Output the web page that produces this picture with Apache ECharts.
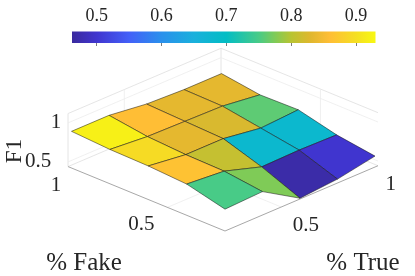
<!DOCTYPE html>
<html><head><meta charset="utf-8">
<style>html,body{margin:0;padding:0;background:#fff}#c{width:415px;height:276px}</style>
<script src="https://cdn.jsdelivr.net/npm/echarts@6/dist/echarts.min.js"></script>
</head><body><div id="c"></div>
<script>
// grid coordinates
const percentTrue = [0.2, 0.4, 0.6, 0.8, 1.0];
const percentFake = [0.2, 0.4, 0.6, 0.8, 1.0];
// F1 heights: one row per % Fake, one column per % True
const f1Fake02 = [0.72, 0.74, 0.45, 0.49, 0.58];
const f1Fake04 = [0.84, 0.80, 0.65, 0.66, 0.65];
const f1Fake06 = [0.87, 0.81, 0.81, 0.74, 0.77];
const f1Fake08 = [0.88, 0.84, 0.83, 0.82, 0.76];
const f1Fake10 = [0.91, 0.91, 0.85, 0.83, 0.83];
// face colour values, one row per % Fake band, one column per % True band
const colorBand0 = [0.75, 0.775, 0.47, 0.50];
const colorBand1 = [0.865, 0.81, 0.68, 0.68];
const colorBand2 = [0.895, 0.835, 0.825, 0.76];
const colorBand3 = [0.92, 0.86, 0.835, 0.835];
const colorTicks = [0.5, 0.6, 0.7, 0.8, 0.9];
const colorRange = [0.462, 0.93];
const stopValues = [0.462,0.5,0.55,0.6,0.65,0.7,0.75,0.775,0.8,0.83,0.86,0.9,0.93];
const stopColors = ['#3a2a9e','#4035cf','#4360f8','#2a90ec','#1ab0dc','#02bdc4','#48cb87','#7fcb57','#b8c432','#e0b72e','#ffbe35','#f5df22','#f8f812'];
const zTickLabels = ['0.5','1'];
const zTicks = [0.5, 1];
const fakeTicks = [0.5, 1];
const trueTicks = [0.5, 1];

const Z0 = 0.44, Z1 = 1.12, ZS = 78;
function proj(tr, fk, z) {
  const t = (tr - 0.2) / 0.8, f = (fk - 0.2) / 0.8;
  return [225 + 150 * t - 153.5 * f, 231 - 64 * t - 63 * f - (z - Z0) * ZS];
}
function colorOf(v) {
  for (let i = 1; i < stopValues.length; i++) {
    if (v <= stopValues[i]) {
      const k = (v - stopValues[i-1]) / (stopValues[i] - stopValues[i-1]);
      return echarts.color.lerp(Math.max(0, k), [stopColors[i-1], stopColors[i]]);
    }
  }
  return stopColors[stopColors.length - 1];
}
const heights = [f1Fake02, f1Fake04, f1Fake06, f1Fake08, f1Fake10];
const colors = [colorBand0, colorBand1, colorBand2, colorBand3];
const cells = [];
for (let f = 3; f >= 0; f--) for (let t = 3; t >= 0; t--) cells.push([t, f, colors[f][t]]);

// lines of the 3D box: [true,fake,z,true,fake,z,kind]
const bT = percentTrue[0], eT = 1.016, bF = percentFake[0], eF = 1.018;
const boxLines = [
  [eT,eF,Z0, bT,eF,Z0, 0],
  [eT,eF,Z0, eT,bF,Z0, 0],
  [eT,eF,Z0, eT,eF,Z1, 0],
  [eT,eF,Z1, bT,eF,Z1, 0],
  [eT,eF,Z1, eT,bF,Z1, 0],
  [bT,eF,Z0, bT,eF,Z1, 0],
  [0.5,bF,Z0, 0.5,eF,Z0, 2],
  [bT,0.5,Z0, eT,0.5,Z0, 2],
  [0.5,eF,Z0, 0.5,eF,Z1, 2],
  [eT,0.5,Z0, eT,0.5,Z1, 2],
  [bT,eF,0.5, eT,eF,0.5, 2],
  [eT,eF,0.5, eT,bF,0.5, 2],
  [bT,eF,1, eT,eF,1, 2],
  [eT,eF,1, eT,bF,1, 2],
  [bT,bF,Z0, eT,bF,Z0, 1],
  [bT,bF,Z0, bT,eF,Z0, 1]
];
// tick labels: [true,fake,z,text,dx,dy]
const labels = [
  [bT,eF,zTicks[0],zTickLabels[0],-30,0],
  [bT,eF,zTicks[1],zTickLabels[1],-12,0],
  [bT,fakeTicks[1],Z0,'1',-15.5,17],
  [bT,fakeTicks[0],Z0,'0.5',-26,17.6],
  [trueTicks[0],bF,Z0,'0.5',24.6,18],
  [trueTicks[1],bF,Z0,'1',15.7,17]
];
const titles = [
  ['F1', 15, 151, Math.PI/2, 23],
  ['% Fake', 84, 263, 0, 25],
  ['% True', 363, 263, 0, 25]
];
const FONT = '"Liberation Serif","Times New Roman",serif';
const INK = '#262626';

const chart = echarts.init(document.getElementById('c'), null, {renderer:'canvas'});
chart.setOption({
  animation:false,
  backgroundColor:'#fff',
  grid:[
    {left:0, top:0, width:415, height:276, show:false},
    {left:72, top:31.5, width:303.5, height:11.5, show:false}
  ],
  xAxis:[
    {gridIndex:0, type:'value', min:0, max:415, show:false},
    {gridIndex:1, type:'value', position:'top', min:colorRange[0], max:colorRange[1], z:6,
     axisLine:{show:false}, splitLine:{show:false},
     axisTick:{show:true, inside:true, length:3, customValues:colorTicks, lineStyle:{color:'#444', width:0.7}},
     axisLabel:{show:true, customValues:colorTicks, margin:6, fontFamily:FONT, fontSize:18, color:INK,
       formatter:v=>v.toFixed(1)}}
  ],
  yAxis:[
    {gridIndex:0, type:'value', min:0, max:276, inverse:true, show:false},
    {gridIndex:1, type:'value', min:0, max:1, show:false}
  ],
  series:[
    {type:'custom', xAxisIndex:1, yAxisIndex:1, data:[[colorRange[0],colorRange[1]]], silent:true, z:1,
     renderItem:(p,api)=>{
       const a=api.coord([api.value(0),1]), b=api.coord([api.value(1),0]);
       const span=colorRange[1]-colorRange[0];
       return {type:'rect', shape:{x:a[0],y:a[1],width:b[0]-a[0],height:b[1]-a[1]},
         style:{fill:new echarts.graphic.LinearGradient(0,0,1,0,
           stopValues.map((v,i)=>({offset:(v-colorRange[0])/span,color:stopColors[i]})))}};
     }},
    {type:'custom', data:boxLines, silent:true, z:2, clip:false,
     renderItem:(p,api)=>{
       const k=api.value(6);
       const a=proj(api.value(0),api.value(1),api.value(2)), b=proj(api.value(3),api.value(4),api.value(5));
       const A=api.coord(a), B=api.coord(b);
       return {type:'line', shape:{x1:A[0],y1:A[1],x2:B[0],y2:B[1]},
         style:{stroke:k==1?'#a8a8a8':k==0?'#dedede':'#ececec', lineWidth:k==1?1:0.8, fill:null}};
     }},
    {type:'custom', data:cells, silent:true, z:3, clip:false,
     renderItem:(p,api)=>{
       const t=api.value(0), f=api.value(1);
       const P=(ti,fi)=>api.coord(proj(percentTrue[ti],percentFake[fi],heights[fi][ti]));
       return {type:'polygon', shape:{points:[P(t,f),P(t+1,f),P(t+1,f+1),P(t,f+1)]},
         style:{fill:colorOf(api.value(2)), stroke:'rgba(20,20,20,0.85)', lineWidth:0.6}};
     }},
    {type:'custom', data:labels, silent:true, z:4, clip:false,
     renderItem:(p,api)=>{
       const q=api.coord(proj(api.value(0),api.value(1),api.value(2)));
       return {type:'text', x:q[0]+api.value(4), y:q[1]+api.value(5),
         style:{text:labels[p.dataIndex][3], fontFamily:FONT, fontSize:21, fill:INK, align:'center', verticalAlign:'middle'}};
     }},
    {type:'custom', data:titles.map(d=>[d[1],d[2]]), silent:true, z:4, clip:false,
     renderItem:(p,api)=>{
       const q=api.coord([api.value(0),api.value(1)]), d=titles[p.dataIndex];
       return {type:'text', x:q[0], y:q[1], rotation:d[3],
         style:{text:d[0], fontFamily:FONT, fontSize:d[4], fill:INK, align:'center', verticalAlign:'middle'}};
     }}
  ]
});
</script></body></html>
